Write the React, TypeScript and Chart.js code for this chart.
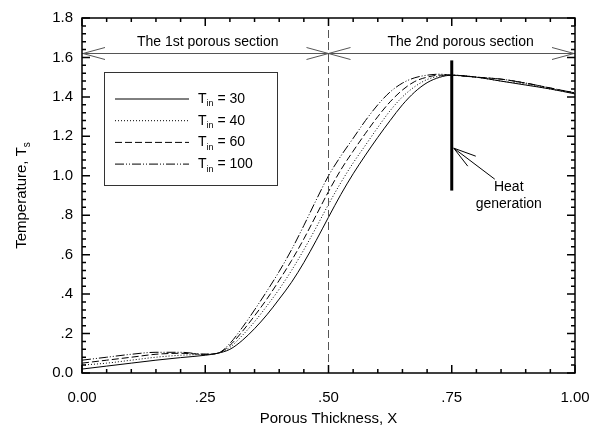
import React, { useEffect, useRef } from "react";
import { Chart, registerables } from "chart.js";

Chart.register(...registerables);

const xValues = [0, 0.05, 0.1, 0.15, 0.2, 0.25, 0.275, 0.3, 0.325, 0.35, 0.375, 0.4, 0.425, 0.45, 0.475, 0.5, 0.525, 0.55, 0.575, 0.6, 0.625, 0.65, 0.675, 0.7, 0.725, 0.75, 0.8, 0.85, 0.9, 0.95, 1.0];
const t30 = [0.02, 0.035, 0.05, 0.065, 0.078, 0.09, 0.1, 0.12, 0.165, 0.225, 0.295, 0.375, 0.46, 0.56, 0.672, 0.79, 0.905, 1.01, 1.105, 1.195, 1.28, 1.36, 1.425, 1.472, 1.499, 1.51, 1.5, 1.48, 1.46, 1.44, 1.415];
const t40 = [0.04, 0.05, 0.065, 0.08, 0.09, 0.095, 0.1, 0.13, 0.19, 0.26, 0.34, 0.425, 0.52, 0.625, 0.738, 0.855, 0.965, 1.065, 1.155, 1.245, 1.33, 1.4, 1.452, 1.488, 1.505, 1.51, 1.5, 1.48, 1.465, 1.44, 1.42];
const t60 = [0.05, 0.065, 0.08, 0.095, 0.1, 0.095, 0.1, 0.14, 0.21, 0.29, 0.375, 0.47, 0.57, 0.68, 0.8, 0.92, 1.03, 1.125, 1.215, 1.3, 1.375, 1.435, 1.478, 1.5, 1.51, 1.51, 1.5, 1.49, 1.47, 1.445, 1.42];
const t100 = [0.065, 0.08, 0.095, 0.105, 0.105, 0.095, 0.1, 0.15, 0.23, 0.32, 0.415, 0.515, 0.625, 0.748, 0.877, 1.0, 1.1, 1.19, 1.28, 1.36, 1.425, 1.47, 1.497, 1.51, 1.515, 1.51, 1.5, 1.49, 1.47, 1.445, 1.42];

const seriesLabels = ["30", "40", "60", "100"];
const seriesData = [t30, t40, t60, t100];
const seriesDash = [[], [1, 2], [7, 3], [9, 2, 1, 2, 1, 2]];

const xTickLabels = ["0.00", ".25", ".50", ".75", "1.00"];
const yTickLabels = ["0.0", ".2", ".4", ".6", ".8", "1.0", "1.2", "1.4", "1.6", "1.8"];

const FONT = "Liberation Sans, Arial, sans-serif";

const overlay = {
  id: "overlay",
  afterDatasetsDraw(chart: any) {
    const ctx = chart.ctx;
    const xs = chart.scales.x;
    const ys = chart.scales.y;
    const a = chart.chartArea;
    const px = (v: number) => xs.getPixelForValue(v);
    const py = (v: number) => ys.getPixelForValue(v);
    ctx.save();

    // vertical dashed at 0.5
    ctx.strokeStyle = "#555";
    ctx.lineWidth = 1;
    ctx.setLineDash([8, 4]);
    ctx.beginPath();
    ctx.moveTo(px(0.5), a.top);
    ctx.lineTo(px(0.5), a.bottom);
    ctx.stroke();
    ctx.setLineDash([]);

    // section arrows
    const ay = py(1.62);
    ctx.strokeStyle = "#555";
    ctx.lineWidth = 1;
    const arrowHead = (tx: number, dir: number) => {
      ctx.beginPath();
      ctx.moveTo(tx + dir * 22, ay - 6);
      ctx.lineTo(tx, ay);
      ctx.lineTo(tx + dir * 22, ay + 6);
      ctx.stroke();
    };
    ctx.beginPath();
    ctx.moveTo(px(0), ay);
    ctx.lineTo(px(1), ay);
    ctx.stroke();
    arrowHead(px(0) + 1, 1);
    arrowHead(px(0.5), -1);
    arrowHead(px(0.5), 1);
    arrowHead(px(1) - 1, -1);

    ctx.fillStyle = "#000";
    ctx.font = `14px ${FONT}`;
    ctx.textAlign = "center";
    ctx.textBaseline = "middle";
    ctx.fillText("The 1st porous section", px(0.255), ay - 11);
    ctx.fillText("The 2nd porous section", px(0.768), ay - 11);

    // heat generation
    ctx.strokeStyle = "#000";
    ctx.lineWidth = 3;
    ctx.beginPath();
    ctx.moveTo(px(0.75), py(1.585));
    ctx.lineTo(px(0.75), py(0.925));
    ctx.stroke();
    const hx = px(0.75) + 2;
    const hy = py(1.14);
    ctx.lineWidth = 1;
    ctx.beginPath();
    ctx.moveTo(hx + 41, hy + 31);
    ctx.lineTo(hx, hy);
    ctx.moveTo(hx, hy);
    ctx.lineTo(hx + 22, hy + 8);
    ctx.moveTo(hx, hy);
    ctx.lineTo(hx + 14, hy + 18);
    ctx.stroke();
    ctx.font = `14px ${FONT}`;
    ctx.fillText("Heat", hx + 55, hy + 39);
    ctx.fillText("generation", hx + 55, hy + 56);

    // legend
    const lx = 104, ly = 72, lw = 173, lh = 113;
    ctx.strokeStyle = "#333";
    ctx.lineWidth = 1;
    ctx.strokeRect(lx + 0.5, ly + 0.5, lw, lh);
    for (let i = 0; i < seriesLabels.length; i++) {
      const yy = 99 + i * 21.7;
      ctx.setLineDash(seriesDash[i]);
      ctx.strokeStyle = "#000";
      ctx.beginPath();
      ctx.moveTo(115, yy);
      ctx.lineTo(189, yy);
      ctx.stroke();
      ctx.setLineDash([]);
      ctx.textAlign = "left";
      ctx.textBaseline = "middle";
      ctx.font = `14px ${FONT}`;
      ctx.fillText("T", 198, yy);
      const tw = ctx.measureText("T").width;
      ctx.font = `9px ${FONT}`;
      ctx.fillText("in", 198 + tw, yy + 5);
      const sw = ctx.measureText("in").width;
      ctx.font = `14px ${FONT}`;
      ctx.fillText(" = " + seriesLabels[i], 198 + tw + sw, yy);
    }

    // frame
    ctx.strokeStyle = "#000";
    ctx.lineWidth = 1.5;
    ctx.strokeRect(a.left, a.top, a.right - a.left, a.bottom - a.top);

    // ticks inside
    ctx.lineWidth = 1.5;
    const major = 8, minor = 4;
    for (let k = 0; k <= 45; k++) {
      const v = k * 0.04;
      const isMajor = k % 5 === 0;
      const L = isMajor ? major : minor;
      const y = py(v);
      ctx.beginPath();
      ctx.moveTo(a.left, y);
      ctx.lineTo(a.left + L, y);
      ctx.moveTo(a.right, y);
      ctx.lineTo(a.right - L, y);
      ctx.stroke();
    }
    for (let k = 0; k <= 20; k++) {
      const v = k * 0.05;
      const isMajor = k % 5 === 0;
      const L = isMajor ? major : minor;
      const x = px(v);
      ctx.beginPath();
      ctx.moveTo(x, a.bottom);
      ctx.lineTo(x, a.bottom - L);
      ctx.moveTo(x, a.top);
      ctx.lineTo(x, a.top + L);
      ctx.stroke();
    }

    // axis titles
    ctx.fillStyle = "#000";
    ctx.font = `15px ${FONT}`;
    ctx.textAlign = "center";
    ctx.textBaseline = "middle";
    ctx.fillText("Porous Thickness, X", (a.left + a.right) / 2, 419);

    ctx.translate(22, (a.top + a.bottom) / 2);
    ctx.rotate(-Math.PI / 2);
    ctx.font = `15px ${FONT}`;
    const main = "Temperature, T";
    const mw = ctx.measureText(main).width;
    ctx.font = `10px ${FONT}`;
    const subw = ctx.measureText("s").width;
    const total = mw + subw;
    ctx.textAlign = "left";
    ctx.font = `15px ${FONT}`;
    ctx.fillText(main, -total / 2, 0);
    ctx.font = `10px ${FONT}`;
    ctx.fillText("s", -total / 2 + mw, 5);
    ctx.restore();
  },
};

export default function App() {
  const ref = useRef<HTMLCanvasElement>(null);
  useEffect(() => {
    document.body.style.margin = "0";
    const canvas = ref.current!;
    const datasets = seriesData.map((d, i) => ({
      label: "T_in = " + seriesLabels[i],
      data: xValues.map((x, j) => ({ x, y: d[j] })),
      borderColor: "#000",
      borderWidth: 1,
      borderDash: seriesDash[i],
      pointRadius: 0,
      fill: false,
      cubicInterpolationMode: "monotone" as const,
    }));
    const chart = new Chart(canvas, {
      type: "line",
      data: { datasets },
      options: {
        animation: false,
        responsive: false,
        maintainAspectRatio: false,
        layout: { padding: { top: 17, right: 34, left: 0, bottom: 0 } },
        plugins: { legend: { display: false }, tooltip: { enabled: false } },
        scales: {
          x: {
            type: "linear",
            min: 0,
            max: 1,
            grid: { display: false, drawTicks: false },
            border: { display: false },
            ticks: {
              stepSize: 0.25,
              padding: 16,
              color: "#000",
              font: { family: FONT, size: 15 },
              maxRotation: 0,
              callback: (v: any) => xTickLabels[Math.round(Number(v) / 0.25)] ?? "",
            },
            afterFit: (s: any) => { s.height = 62; },
          },
          y: {
            type: "linear",
            min: 0,
            max: 1.8,
            grid: { display: false, drawTicks: false },
            border: { display: false },
            ticks: {
              stepSize: 0.2,
              padding: 9,
              color: "#000",
              font: { family: FONT, size: 15 },
              callback: (v: any) => yTickLabels[Math.round(Number(v) / 0.2)] ?? "",
            },
            afterFit: (s: any) => { s.width = 82; },
          },
        },
      },
      plugins: [overlay],
    });
    return () => chart.destroy();
  }, []);
  return (
    <div style={{ width: 609, height: 435 }}>
      <canvas ref={ref} width={609} height={435} style={{ display: "block" }} />
    </div>
  );
}
